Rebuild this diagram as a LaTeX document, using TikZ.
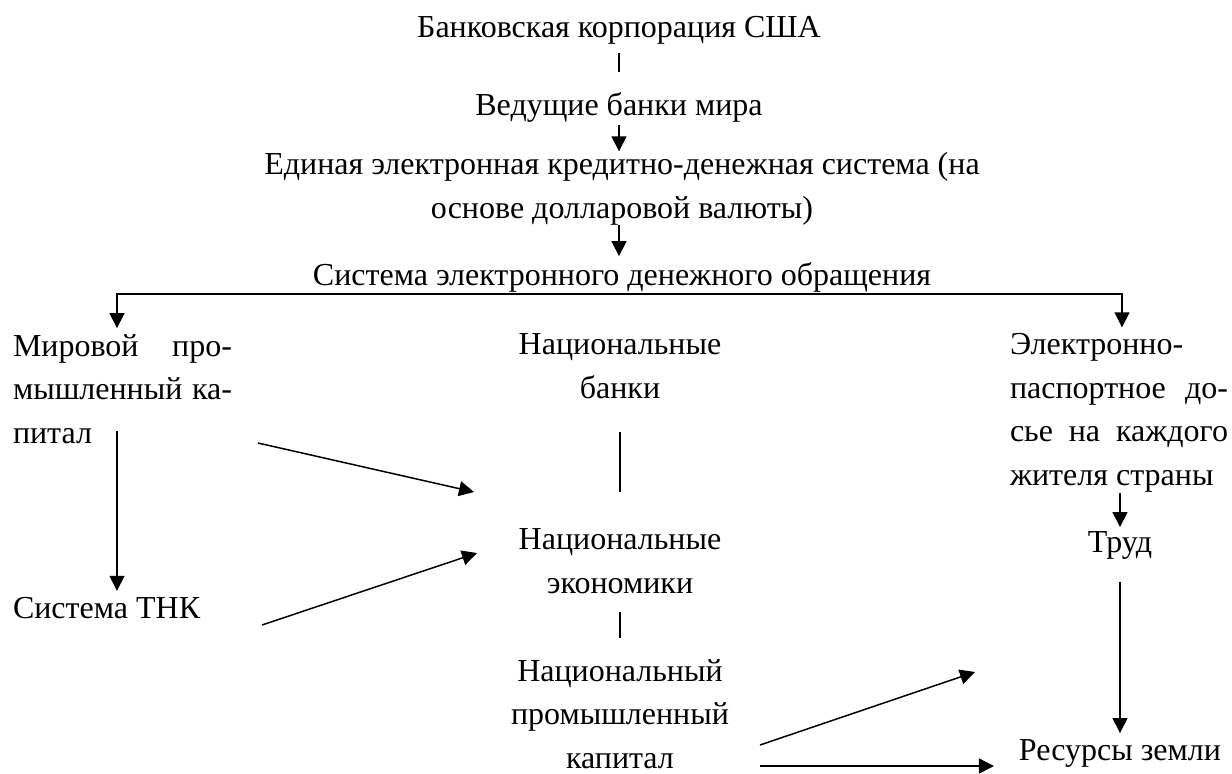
\documentclass[tikz,border=0pt]{standalone}
\usepackage{fontspec}
\setmainfont{Liberation Serif}
\usetikzlibrary{arrows.meta}
\begin{document}
\begin{tikzpicture}[x=1pt,y=-1pt,inner sep=0pt,outer sep=0pt,align=center,
  font={\fontsize{32}{43.5}\selectfont},>={Triangle[length=15pt,width=15pt]}]
\tikzstyle{term}=[anchor=base]
\tikzstyle{link}=[-,line width=1.5pt]
\tikzstyle{flow}=[->,line width=1.5pt]

\useasboundingbox (0,0) rectangle (1232,774);

% base anchor = baseline of the last line
\node[term] (bank) at (619,37) {Банковская корпорация США};
\node[term] (leaders) at (619,115) {Ведущие банки мира};
\node[term] (unified) at (622,218) {Единая электронная кредитно-денежная система (на\\основе долларовой валюты)};
\node[term] (emoney) at (622,285) {Система электронного денежного обращения};
\node[term,anchor=base west,align=left] (world) at (13,443)
  {\makebox[219pt][s]{Мировой про-}\\\makebox[219pt][s]{мышленный ка-}\\питал};
\node[term] (natbanks) at (620,398) {Национальные\\банки};
\node[term,anchor=base west,align=left] (passport) at (1010,485)
  {Электронно-\\\makebox[218pt][s]{паспортное до-}\\\makebox[218pt][s]{сье на каждого}\\жителя страны};
\node[term,anchor=base west] (tnc) at (13,618) {Система ТНК};
\node[term] (nateco) at (620,593) {Национальные\\экономики};
\node[term] (natcap) at (620,768) {Национальный\\промышленный\\капитал};
\node[term] (labour) at (1120,552) {Труд};
\node[term] (resources) at (1120,760) {Ресурсы земли};

\coordinate (busL) at (117,294);
\coordinate (busR) at (1122,294);
\coordinate (world_out) at (258,443);
\coordinate (tnc_out) at (262,625);
\coordinate (eco_in1) at (474,492);
\coordinate (eco_in2) at (477,553);
\coordinate (cap_out1) at (760,745);
\coordinate (cap_out2) at (760,766);
\coordinate (lab_in) at (975,672);

\draw[<->,line width=1.5pt,shorten <=6pt,shorten >=6pt]
  (busL |- world.north) -- (busL) -- (busR) -- (busR |- passport.north);

\path
  (bank) edge [link,shorten <=9pt,shorten >=20pt] (leaders)
  (leaders.south) edge [flow,shorten <=3pt,shorten >=1pt] (unified.north -| leaders)
  (unified.south -| bank) edge [flow,shorten >=6pt] (emoney.north -| bank)
  (world.south -| busL) edge [flow,shorten <=-12pt,shorten >=6pt] (tnc.north -| busL)
  (world_out) edge [flow] (eco_in1)
  (tnc_out) edge [flow] (eco_in2)
  (natbanks) edge [link,shorten <=34pt,shorten >=37pt] (nateco)
  (nateco) edge [link,shorten <=19pt,shorten >=21pt] (natcap)
  (passport.south -| labour) edge [flow,shorten <=1pt,shorten >=4pt] (labour)
  (labour) edge [flow,shorten <=23pt,shorten >=6pt] (resources)
  (cap_out1) edge [flow] (lab_in)
  (cap_out2) edge [flow,shorten >=25pt] (cap_out2 -| resources.west);
\end{tikzpicture}
\end{document}
